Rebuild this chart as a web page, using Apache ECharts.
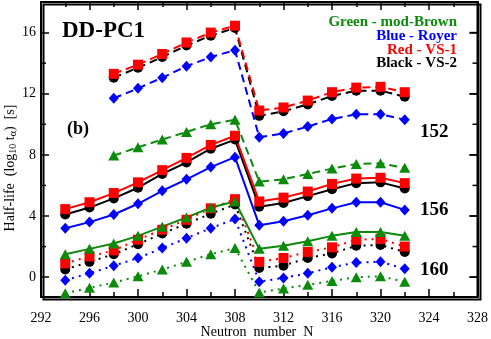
<!DOCTYPE html>
<html><head><meta charset="utf-8">
<script src="https://cdn.jsdelivr.net/npm/echarts@6/dist/echarts.min.js"></script>
<style>html,body{margin:0;padding:0;background:#fff;overflow:hidden}#c{width:491px;height:339px}</style>
</head><body><div id="c"></div>
<script>
// Neutron numbers
const x152 = [298,300,302,304,306,308,310,312,314,316,318,320,322];
const xAll = [294,296,298,300,302,304,306,308,310,312,314,316,318,320,322];
// Z = 152 (dashed)
const red152   = [13.3,13.9,14.6,15.35,16.0,16.45,10.9,11.1,11.55,12.1,12.4,12.45,12.1];
const black152 = [13.05,13.7,14.4,15.15,15.8,16.3,10.55,10.85,11.3,11.85,12.2,12.2,11.8];
const blue152  = [11.7,12.35,13.05,13.8,14.4,14.85,9.15,9.4,9.85,10.35,10.65,10.65,10.3];
const green152 = [7.95,8.5,9.0,9.5,10.0,10.3,6.25,6.4,6.75,7.1,7.4,7.45,7.15];
// Z = 156 (solid)
const red156   = [4.45,4.9,5.5,6.2,7.0,7.8,8.65,9.25,4.95,5.2,5.6,6.1,6.45,6.5,6.15];
const black156 = [4.1,4.55,5.15,5.85,6.75,7.5,8.4,9.0,4.6,4.85,5.3,5.75,6.15,6.2,5.8];
const blue156  = [3.2,3.6,4.1,4.8,5.65,6.4,7.2,7.85,3.4,3.65,4.05,4.5,4.9,4.9,4.4];
const green156 = [1.5,1.85,2.2,2.7,3.3,3.9,4.55,4.95,1.85,2.05,2.35,2.7,2.95,2.95,2.7];
// Z = 160 (dotted)
const red160   = [0.9,1.35,1.75,2.45,3.1,3.75,4.5,5.1,1.0,1.25,1.65,1.95,2.45,2.5,2.0];
const black160 = [0.5,1.0,1.5,2.15,2.85,3.5,4.15,4.75,0.6,0.75,1.25,1.55,2.05,2.1,1.65];
const blue160  = [-0.2,0.25,0.75,1.25,1.9,2.55,3.2,3.8,-0.3,-0.05,0.25,0.65,0.95,1.0,0.55];
const green160 = [-1.05,-0.7,-0.35,0.05,0.5,1.0,1.5,1.9,-1.0,-0.75,-0.5,-0.25,0.0,0.05,-0.3];
// ticks
const yMajor = [0,4,8,12,16];
const yMinor = [2,6,10,14];
const legendTexts = ['Green - mod-Brown','Blue - Royer','Red - VS-1','Black - VS-2'];
const groupLabels = ['152','156','160'];

const GREEN = '#0b8a0b', BLUE = '#0000ff', RED = '#ff0000', BLACK = '#000000';
const serif = '"Liberation Serif","DejaVu Serif",serif';
const X_MIN = 292, X_MAX = 328, Y_MIN = -1.3, Y_MAX = 18;
function pts(xs, ys){ return xs.map((x,i)=>[x, ys[i]]); }
function ser(xs, ys, color, sym, dash){
  let size = 10;
  if (sym === 'triangle') size = [11,10];
  if (sym === 'diamond') size = [10,11];
  return {type:'line', data: pts(xs, ys), symbol: sym, symbolSize: size,
    xAxisIndex:0, yAxisIndex:0,
    itemStyle:{color: color}, lineStyle:{color: color, width: 2, type: dash},
    showSymbol: true, animation: false, z: 2};
}
const dashed = [8,5], dotted = [2,5];
const series = [
  ser(x152, green152, GREEN, 'triangle', dashed),
  ser(x152, blue152, BLUE, 'diamond', dashed),
  ser(x152, black152, BLACK, 'circle', dashed),
  ser(x152, red152, RED, 'rect', dashed),
  ser(xAll, green160, GREEN, 'triangle', dotted),
  ser(xAll, blue160, BLUE, 'diamond', dotted),
  ser(xAll, black160, BLACK, 'circle', dotted),
  ser(xAll, red160, RED, 'rect', dotted),
  ser(xAll, blue156, BLUE, 'diamond', 'solid'),
  ser(xAll, black156, BLACK, 'circle', 'solid'),
  ser(xAll, red156, RED, 'rect', 'solid'),
  ser(xAll, green156, GREEN, 'triangle', 'solid')
];
// Right frame edge and minor y ticks, drawn through the axes' own scales
series.push({
  type:'custom', xAxisIndex:0, yAxisIndex:0, silent:true, z:10, clip:false,
  data:[[X_MAX, Y_MIN]], encode:{x:0, y:1},
  renderItem: function (params, api) {
    const kids = [];
    const t = api.coord([X_MAX, Y_MAX]), b = api.coord([X_MAX, Y_MIN]);
    kids.push({type:'line', shape:{x1:t[0], y1:t[1]-1, x2:b[0], y2:b[1]+1}, style:{stroke:'#000', lineWidth:2}});
    yMajor.forEach(v => {
      const p = api.coord([X_MAX, v]);
      kids.push({type:'line', shape:{x1:p[0]-8, y1:p[1], x2:p[0], y2:p[1]}, style:{stroke:'#000', lineWidth:1.5}});
    });
    yMinor.forEach(v => {
      const p = api.coord([X_MAX, v]), q = api.coord([X_MIN, v]);
      kids.push({type:'line', shape:{x1:p[0]-5, y1:p[1], x2:p[0], y2:p[1]}, style:{stroke:'#000', lineWidth:1.5}});
      kids.push({type:'line', shape:{x1:q[0], y1:q[1], x2:q[0]+5, y2:q[1]}, style:{stroke:'#000', lineWidth:1.5}});
    });
    return {type:'group', children: kids};
  }
});

function axLineF(){ return {show:true, onZero:false, lineStyle:{color:'#000', width:2}}; }
function xAx(pos, labels){
  return {type:'value', min:X_MIN, max:X_MAX, interval:4, position:pos,
    axisLine: axLineF(), splitLine:{show:false},
    axisTick:{show:true, inside:true, length:8, lineStyle:{color:'#000', width:1.5}},
    minorTick:{show:true, splitNumber:2, length:5, lineStyle:{color:'#000', width:1.5}},
    axisLabel:{show:labels, color:'#000', fontFamily:serif, fontSize:14, margin:14}};
}
function yAx(pos, labels){
  return {type:'value', min:Y_MIN, max:Y_MAX, position:pos,
    axisLine: axLineF(), splitLine:{show:false},
    axisTick:{show:true, inside:true, length:8, customValues: yMajor.slice(), lineStyle:{color:'#000', width:1.5}},
    axisLabel:{show:labels, customValues: yMajor.slice(), color:'#000', fontFamily:serif, fontSize:14, margin:5}};
}

const GRID = {left:41, right:13, top:2, bottom:42};
const gTexts = [];
gTexts.push({type:'text', left:62, top:20, style:{text:'DD-PC1', font:'bold 23px '+serif, fill:'#000'}});
gTexts.push({type:'text', left:67, top:120, style:{text:'(b)', font:'bold 18px '+serif, fill:'#000'}});
const gy = [132, 210, 270];
groupLabels.forEach((t,i)=>gTexts.push({type:'text', x:420, y:gy[i], style:{text:t, font:'bold 19px '+serif, fill:'#000', verticalAlign:'middle'}}));
const lc = [GREEN, BLUE, RED, BLACK];
const ly = [22, 36, 50, 63.5];
legendTexts.forEach((t,i)=>gTexts.push({type:'text', x:457, y:ly[i], style:{text:t, font:'bold 15px '+serif, fill:lc[i], align:'right', verticalAlign:'middle'}}));
gTexts.push({type:'text', x:257, y:332, style:{text:'Neutron  number  N', font:'14px '+serif, fill:'#000', align:'center', verticalAlign:'middle'}});
gTexts.push({type:'text', x:10, y:168, rotation:Math.PI/2,
  style:{text:'Half-life  (log{s|10} t{s|α})  [s]', font:'14px '+serif, fill:'#000', align:'center', verticalAlign:'middle',
    rich:{s:{fontSize:10, fontFamily:serif, fill:'#000', padding:[6,0,0,0]}}}});
// frame outline following the grid box (layout, not data)
gTexts.push({type:'rect', left:GRID.left, top:GRID.top, z:9, silent:true,
  shape:{width: 491-GRID.left-GRID.right, height: 339-GRID.top-GRID.bottom},
  style:{fill:'none', stroke:'#000', lineWidth:2}});

const chart = echarts.init(document.getElementById('c'), null, {renderer:'canvas', width:491, height:339});
chart.setOption({
  backgroundColor:'#fff', animation:false,
  grid: GRID,
  xAxis:[xAx('bottom', true), xAx('top', false)],
  yAxis:[yAx('left', true), yAx('right', false)],
  series: series,
  graphic: gTexts
});
</script></body></html>
